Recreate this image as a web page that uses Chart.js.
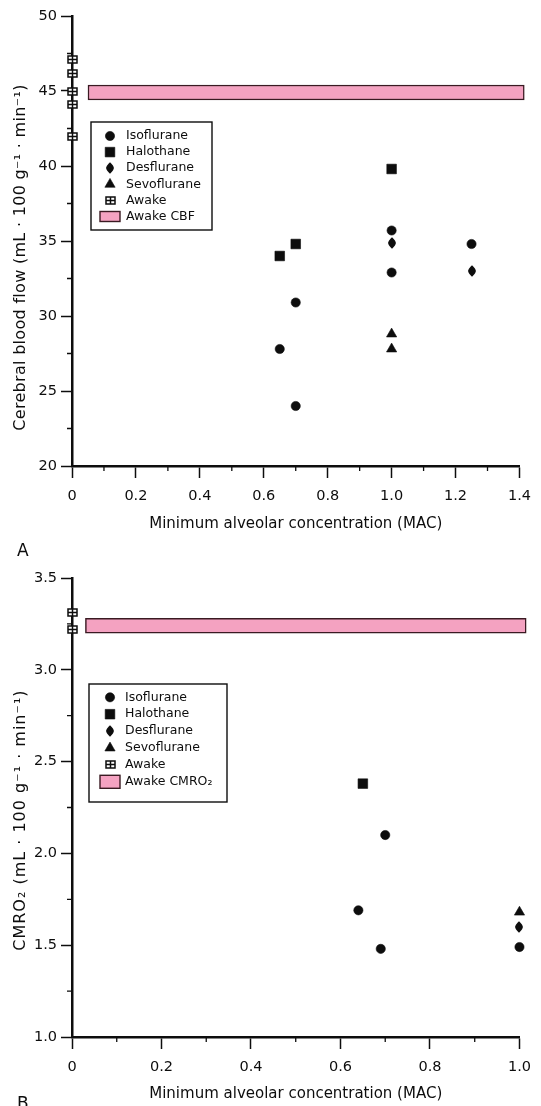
<!DOCTYPE html>
<html>
<head>
<meta charset="utf-8">
<script src="https://cdn.jsdelivr.net/npm/chart.js@4.4.1/dist/chart.umd.min.js"></script>
<style>
  html, body { margin: 0; padding: 0; background: #fff; }
  .panel { position: absolute; left: 0; width: 541px; }
  #panelA { top: 0; height: 560px; }
  #panelB { top: 560px; height: 546px; }
  canvas { display: block; }
</style>
</head>
<body>
<div class="panel" id="panelA"><canvas id="cbfChart" width="541" height="560"></canvas></div>
<div class="panel" id="panelB"><canvas id="cmroChart" width="541" height="546"></canvas></div>
<script>
// ---- Panel A: cerebral blood flow (mL·100 g⁻¹·min⁻¹) against MAC ----
const cbfIsoflurane  = [[0.65, 27.8], [0.70, 30.9], [0.70, 24.0], [1.0, 35.7], [1.0, 32.9], [1.25, 34.8]];
const cbfHalothane   = [[0.65, 34.0], [0.70, 34.8], [1.0, 39.8]];
const cbfDesflurane  = [[1.0, 34.9], [1.25, 33.0]];
const cbfSevoflurane = [[1.0, 28.8], [1.0, 27.8]];
const cbfAwake       = [[0, 47.1], [0, 46.2], [0, 45.0], [0, 44.1], [0, 42.0]];
const cbfAwakeMean   = 44.9;
const cbfAwakeSpan   = [0.05, 1.415];
const cbfYTicks      = [20, 50, 5];      // min, max, step
const cbfXTicks      = [0, 1.4, 0.2];

// ---- Panel B: CMRO₂ (mL·100 g⁻¹·min⁻¹) against MAC ----
const cmroIsoflurane  = [[0.70, 2.10], [0.64, 1.69], [0.69, 1.48], [1.0, 1.49]];
const cmroHalothane   = [[0.65, 2.38]];
const cmroDesflurane  = [[1.0, 1.60]];
const cmroSevoflurane = [[1.0, 1.68]];
const cmroAwake       = [[0, 3.31], [0, 3.22]];
const cmroAwakeMean   = 3.24;
const cmroAwakeSpan   = [0.03, 1.015];
const cmroYTicks      = [1.0, 3.5, 0.5];
const cmroXTicks      = [0, 1.0, 0.2];

const seriesNames = ['Isoflurane', 'Halothane', 'Desflurane', 'Sevoflurane', 'Awake'];
const xTitle = 'Minimum alveolar concentration (MAC)';

// ---- marker styles ----
const INK = '#0d0d0d';
const BAND_FILL = '#f4a2c1';
const BAND_EDGE = '#3a1a22';

function glyph(w, h, paint) {
  const c = document.createElement('canvas');
  c.width = w; c.height = h;
  const g = c.getContext('2d');
  g.fillStyle = INK; g.strokeStyle = INK;
  paint(g);
  return c;
}
const markDiamond = glyph(8, 12, g => {
  g.beginPath();
  g.moveTo(4, 0.2);
  g.quadraticCurveTo(7.9, 4, 7.9, 6);
  g.quadraticCurveTo(7.9, 8, 4, 11.8);
  g.quadraticCurveTo(0.1, 8, 0.1, 6);
  g.quadraticCurveTo(0.1, 4, 4, 0.2);
  g.fill();
});
const markAwake = glyph(11, 9, g => {
  g.fillStyle = '#fff'; g.fillRect(1, 1, 9, 7);
  g.lineWidth = 1.5;
  g.strokeRect(1, 1, 9, 7);
  g.beginPath();
  g.moveTo(5.5, 1); g.lineTo(5.5, 8);
  g.moveTo(1, 4.5); g.lineTo(10, 4.5);
  g.stroke();
});
// [pointStyle, radius] per series
const markers = [['circle', 4.6], ['rect', 6.8], [markDiamond, 5], ['triangle', 5.9], [markAwake, 5]];

const asPoints = arr => arr.map(([x, y]) => ({ x, y }));

function buildDatasets(series, bandMean, bandSpan, bandLabel) {
  const sets = series.map((arr, i) => ({
    label: seriesNames[i],
    data: asPoints(arr),
    pointStyle: markers[i][0],
    pointRadius: markers[i][1],
    pointBackgroundColor: INK,
    pointBorderColor: INK,
    pointBorderWidth: 0.6,
    clip: false
  }));
  sets.push({
    type: 'bar',
    label: bandLabel,
    indexAxis: 'y',
    data: [{ x: bandSpan, y: bandMean }],
    backgroundColor: BAND_FILL,
    borderColor: BAND_EDGE,
    borderWidth: 1.5,
    borderSkipped: false,
    barThickness: 15,
    clip: false
  });
  return sets;
}

const fmtX = v => (v === 0 ? '0' : v.toFixed(1));

function legendMarker(ctx, ds, x, y) {
  const style = ds.pointStyle;
  if (typeof style === 'object') {
    ctx.drawImage(style, Math.round(x - style.width / 2), Math.round(y - style.height / 2));
    return;
  }
  ctx.fillStyle = INK;
  ctx.strokeStyle = INK;
  ctx.lineWidth = ds.pointBorderWidth;
  if (Chart.helpers && Chart.helpers.drawPoint) {
    Chart.helpers.drawPoint(ctx, { pointStyle: style, radius: ds.pointRadius, borderWidth: ds.pointBorderWidth, rotation: 0 }, x, y);
  } else {
    ctx.beginPath();
    ctx.arc(x, y, ds.pointRadius, 0, Math.PI * 2);
    ctx.fill();
  }
}

// ---- minor ticks, rotated y title, framed legend, panel letter ----
const panelDecor = {
  id: 'panelDecor',
  beforeDatasetsDraw(chart, args, o) {
    const ctx = chart.ctx;
    const { x, y } = chart.scales;
    ctx.save();
    ctx.strokeStyle = INK;
    ctx.lineWidth = 1.3;
    ctx.beginPath();
    const xt = x.ticks.map(t => t.value);
    for (let i = 0; i < xt.length - 1; i++) {
      const px = x.getPixelForValue((xt[i] + xt[i + 1]) / 2);
      ctx.moveTo(px, x.top);
      ctx.lineTo(px, x.top + o.minorLen);
    }
    const yt = y.ticks.map(t => t.value);
    for (let i = 0; i < yt.length - 1; i++) {
      const py = y.getPixelForValue((yt[i] + yt[i + 1]) / 2);
      ctx.moveTo(y.right, py);
      ctx.lineTo(y.right - o.minorLen, py);
    }
    ctx.stroke();
    ctx.restore();
    // keep bitmap markers crisp at fractional positions
    ctx.imageSmoothingEnabled = false;
  },
  afterDatasetsDraw(chart) {
    chart.ctx.imageSmoothingEnabled = true;
  },
  afterDraw(chart, args, o) {
    const ctx = chart.ctx;
    const area = chart.chartArea;
    ctx.save();
    ctx.fillStyle = INK;

    // rotated y-axis title
    ctx.save();
    ctx.translate(o.yTitle.x, (area.top + area.bottom) / 2 + o.yTitle.shift);
    ctx.rotate(-Math.PI / 2);
    ctx.font = o.yTitle.size + 'px "DejaVu Sans"';
    if ('letterSpacing' in ctx) ctx.letterSpacing = o.yTitle.spacing + 'px';
    ctx.textAlign = 'center';
    ctx.textBaseline = 'middle';
    ctx.fillText(o.yTitle.text, 0, 0);
    ctx.restore();

    // framed legend
    const L = o.legend;
    ctx.lineWidth = 1.4;
    ctx.strokeStyle = INK;
    ctx.strokeRect(L.x, L.y, L.w, L.h);
    chart.data.datasets.forEach((ds, i) => {
      const ry = L.firstRow + i * L.step;
      ctx.save();
      if (ds.type === 'bar') {
        ctx.fillStyle = ds.backgroundColor;
        ctx.fillRect(L.markX - 10, ry - L.swatchH / 2, 20, L.swatchH);
        ctx.strokeStyle = ds.borderColor;
        ctx.lineWidth = 1.4;
        ctx.strokeRect(L.markX - 10, ry - L.swatchH / 2, 20, L.swatchH);
      } else {
        legendMarker(ctx, ds, L.markX, ry);
      }
      ctx.restore();
      ctx.fillStyle = INK;
      ctx.font = L.size + 'px "DejaVu Sans"';
      ctx.textAlign = 'left';
      ctx.textBaseline = 'middle';
      ctx.fillText(ds.label, L.textX, ry);
    });

    // panel letter
    ctx.font = '17px "DejaVu Sans"';
    ctx.textAlign = 'left';
    ctx.textBaseline = 'alphabetic';
    ctx.fillText(o.letter.text, o.letter.x, o.letter.y);
    ctx.restore();
  }
};

function axisOptions(xr, yr, xHeight, yWidth, titleBottom, yFmt) {
  return {
    x: {
      type: 'linear', min: xr[0], max: xr[1], offset: false,
      grid: { display: true, drawOnChartArea: false, drawTicks: true, tickLength: 12, tickWidth: 1.5, tickColor: INK, offset: false },
      border: { display: true, width: 2.5, color: INK },
      ticks: { stepSize: xr[2], padding: 10, color: INK, font: { size: 14.5 }, maxRotation: 0, autoSkip: false, callback: v => fmtX(v) },
      title: { display: true, text: xTitle, color: INK, font: { size: 15 }, padding: { top: 0, bottom: titleBottom } },
      afterFit: s => { s.height = xHeight; }
    },
    y: {
      type: 'linear', min: yr[0], max: yr[1], offset: false,
      grid: { display: true, drawOnChartArea: false, drawTicks: true, tickLength: 11, tickWidth: 1.5, tickColor: INK, offset: false },
      border: { display: true, width: 2.5, color: INK },
      ticks: { stepSize: yr[2], padding: 4, color: INK, font: { size: 14.5 }, autoSkip: false, callback: v => yFmt(v) },
      afterFit: s => { s.width = yWidth; }
    }
  };
}

Chart.defaults.font.family = '"DejaVu Sans", sans-serif';
Chart.defaults.color = INK;

new Chart(document.getElementById('cbfChart'), {
  type: 'scatter',
  data: {
    datasets: buildDatasets([cbfIsoflurane, cbfHalothane, cbfDesflurane, cbfSevoflurane, cbfAwake],
      cbfAwakeMean, cbfAwakeSpan, 'Awake CBF')
  },
  options: {
    responsive: false, animation: false, events: [], devicePixelRatio: 1,
    layout: { padding: { left: 0, right: 16, top: 16, bottom: 0 } },
    scales: axisOptions(cbfXTicks, cbfYTicks, 94, 72, 27, v => String(v)),
    plugins: {
      legend: { display: false }, tooltip: { enabled: false },
      panelDecor: {
        minorLen: 5,
        yTitle: { text: 'Cerebral blood flow (mL · 100 g⁻¹ · min⁻¹)', x: 21, shift: 16.5, size: 16, spacing: 0.3 },
        legend: { x: 91, y: 122, w: 121, h: 108, firstRow: 136, step: 16.1, markX: 110, textX: 126, size: 12.5, swatchH: 10 },
        letter: { text: 'A', x: 17, y: 556 }
      }
    }
  },
  plugins: [panelDecor]
});

new Chart(document.getElementById('cmroChart'), {
  type: 'scatter',
  data: {
    datasets: buildDatasets([cmroIsoflurane, cmroHalothane, cmroDesflurane, cmroSevoflurane, cmroAwake],
      cmroAwakeMean, cmroAwakeSpan, 'Awake CMRO₂')
  },
  options: {
    responsive: false, animation: false, events: [], devicePixelRatio: 1,
    layout: { padding: { left: 0, right: 18, top: 18, bottom: 0 } },
    scales: axisOptions(cmroXTicks, cmroYTicks, 69, 72, 3, v => v.toFixed(1)),
    plugins: {
      legend: { display: false }, tooltip: { enabled: false },
      panelDecor: {
        minorLen: 5,
        yTitle: { text: 'CMRO₂ (mL · 100 g⁻¹ · min⁻¹)', x: 21, shift: 12.6, size: 16, spacing: 1 },
        legend: { x: 89, y: 124, w: 138, h: 118, firstRow: 137.3, step: 16.9, markX: 110, textX: 125, size: 12.5, swatchH: 13 },
        letter: { text: 'B', x: 17, y: 549 }
      }
    }
  },
  plugins: [panelDecor]
});
</script>
</body>
</html>
